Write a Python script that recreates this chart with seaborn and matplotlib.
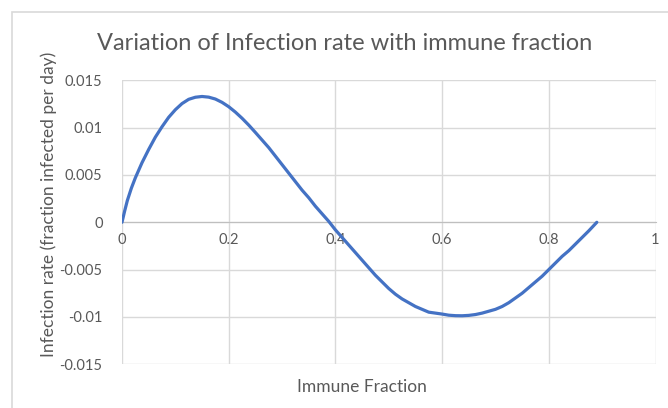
import matplotlib
matplotlib.use("Agg")
import matplotlib.pyplot as plt
import seaborn as sns
from matplotlib.patches import Rectangle

# values
immune_fraction = [0, 0.005, 0.01, 0.0175, 0.025, 0.0375, 0.05, 0.0625, 0.075, 0.0875,
                   0.1, 0.1125, 0.125, 0.1375, 0.15, 0.1625, 0.175, 0.1875, 0.2, 0.2125,
                   0.225, 0.2375, 0.25, 0.2625, 0.275, 0.2875, 0.3, 0.3125, 0.325, 0.3375,
                   0.35, 0.3625, 0.375, 0.3875, 0.4, 0.4125, 0.425, 0.4375, 0.45, 0.4625,
                   0.475, 0.4875, 0.5, 0.5125, 0.525, 0.5375, 0.55, 0.5625, 0.575, 0.5875,
                   0.6, 0.6125, 0.625, 0.6375, 0.65, 0.6625, 0.675, 0.6875, 0.7, 0.7125,
                   0.725, 0.7375, 0.75, 0.7625, 0.775, 0.7875, 0.8, 0.8125, 0.825, 0.8375,
                   0.85, 0.8625, 0.875, 0.89]
infection_rate = [0, 0.0012, 0.0023, 0.0036, 0.0047, 0.0063, 0.0077, 0.0090, 0.0101, 0.0111,
                  0.0119, 0.01255, 0.0130, 0.01322, 0.01330, 0.01323, 0.01303, 0.01268, 0.01222, 0.01165,
                  0.0110, 0.01028, 0.0095, 0.0087, 0.0079, 0.0070, 0.0061, 0.0052, 0.0043, 0.0034,
                  0.0026, 0.0017, 0.0009, 0.0001, -0.0008, -0.0016, -0.0024, -0.0032, -0.0040, -0.0048,
                  -0.0056, -0.0063, -0.0070, -0.0076, -0.0081, -0.0085, -0.0089, -0.0092, -0.0095, -0.0096,
                  -0.0097, -0.00982, -0.00987, -0.00988, -0.00984, -0.00975, -0.0096, -0.0094, -0.0092, -0.0089,
                  -0.0085, -0.0080, -0.0075, -0.0069, -0.0063, -0.0057, -0.0050, -0.0043, -0.0036, -0.0030,
                  -0.0023, -0.0016, -0.0009, 0.0]

x_ticks = [0, 0.2, 0.4, 0.6, 0.8, 1]
x_tick_labels = ["0", "0.2", "0.4", "0.6", "0.8", "1"]
y_ticks = [-0.015, -0.01, -0.005, 0, 0.005, 0.01, 0.015]
y_tick_labels = ["-0.015", "-0.01", "-0.005", "0", "0.005", "0.01", "0.015"]

sns.set_style("white")
plt.rcParams['font.family'] = ['Lato', 'DejaVu Sans']
plt.rcParams['axes.unicode_minus'] = False

fig = plt.figure(figsize=(6.68, 4.08), dpi=100)
W, H = 668, 408
left, right, top, bottom = 122, 655.5, 80.4, 364.2
ax = fig.add_axes([left / W, 1 - bottom / H, (right - left) / W, (bottom - top) / H])

# chart border
fig.patches.append(Rectangle((12 / W, -0.1), 1.2, 1 - 12 / H + 0.1, transform=fig.transFigure,
                             fill=False, edgecolor="#d9d9d9", linewidth=1.2))

sns.lineplot(x=immune_fraction, y=infection_rate, ax=ax, color="#4472C4", linewidth=2.3, zorder=3)

ax.set_xlim(0, 1)
ax.set_ylim(-0.015, 0.015)
ax.set_xticks(x_ticks)
ax.set_xticklabels(x_tick_labels)
ax.set_yticks(y_ticks)
ax.set_yticklabels(y_tick_labels)
ax.grid(True, color="#d9d9d9", linewidth=1.0)
ax.set_axisbelow(True)
for side in ["top", "right", "left"]:
    ax.spines[side].set_visible(False)
ax.spines["bottom"].set_position(("data", 0))
ax.spines["bottom"].set_color("#bfbfbf")
ax.spines["bottom"].set_zorder(2)
ax.tick_params(axis="both", length=0, labelsize=10.5, labelcolor="#595959")
ax.tick_params(axis="x", pad=8)
ax.tick_params(axis="y", pad=14)

fig.text(345 / W, 1 - 43 / H, "Variation of Infection rate with immune fraction",
         fontsize=17, color="#595959", ha="center", va="center")
ax.set_ylabel("Infection rate (fraction infected per day)", fontsize=12.5, color="#595959")
ax.yaxis.set_label_coords(-(left - 57) / (right - left), (bottom - 204) / (bottom - top))
fig.text(362 / W, 1 - 387 / H, "Immune Fraction", fontsize=12.5, color="#595959",
         ha="center", va="center")

fig.savefig("out.png", dpi=100)
